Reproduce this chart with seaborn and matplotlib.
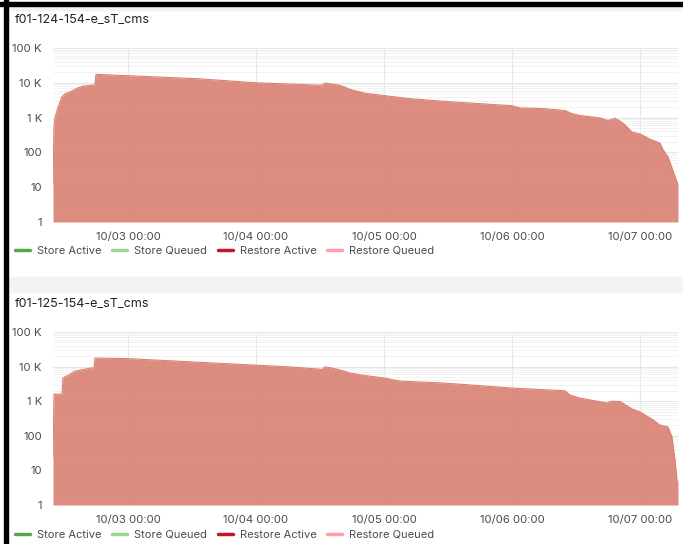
import matplotlib
matplotlib.use("Agg")
import matplotlib.pyplot as plt
import matplotlib.dates as mdates
from matplotlib.lines import Line2D
from matplotlib.patches import Rectangle
from matplotlib.ticker import FixedLocator, FixedFormatter, LogLocator, NullFormatter
import pandas as pd
import seaborn as sns

sns.set_theme(style="white")
plt.rcParams["font.family"] = ["Inter", "DejaVu Sans"]

start = pd.Timestamp("2023-10-02 00:00")

panel_titles = ["f01-124-154-e_sT_cms", "f01-125-154-e_sT_cms"]
series_names = ["Store Active", "Store Queued", "Restore Active", "Restore Queued"]
series_colors = ["#56A64B", "#96D98D", "#C4162A", "#FF9EA5"]

# hours since 10/02 00:00 and number of queued restores
hours_124 = [9.94, 10.13, 10.31, 10.88, 11.63, 12.19, 13.13, 14.44, 15.56, 17.25,
             17.81, 18.0, 24.0, 37.5, 48.0, 56.25, 59.63, 60.38, 60.94, 61.88,
             63.75, 65.63, 68.44, 72.0, 76.88, 84.38, 96.0, 97.5, 102.19, 105.94,
             107.25, 108.75, 112.5, 114.0, 115.31, 116.25, 117.19, 118.5, 120.0,
             121.88, 123.75, 124.31, 125.25, 126.0, 126.94, 127.13]
queued_124 = [12, 600, 1000, 2000, 4000, 4800, 5500, 7000, 8000, 8500,
              8800, 17500, 16000, 13000, 10000, 9000, 8500, 8600, 9800, 9300,
              8500, 6500, 5000, 4300, 3500, 2850, 2200, 1900, 1800, 1600,
              1300, 1150, 980, 820, 950, 800, 620, 380, 340,
              240, 185, 120, 74, 36, 14, 12]

hours_125 = [9.94, 10.13, 11.63, 11.81, 13.13, 14.06, 16.88, 17.63, 17.81, 24.0,
             43.13, 48.0, 54.38, 59.63, 60.38, 60.94, 61.88, 63.75, 65.63, 68.44,
             72.0, 75.0, 82.5, 86.25, 96.0, 105.94, 106.88, 108.75, 113.81, 114.75,
             116.25, 117.19, 118.5, 120.0, 122.44, 123.75, 125.25, 126.0, 126.56,
             126.94, 127.13]
queued_125 = [24, 1600, 1600, 4700, 6000, 7400, 9000, 9200, 17700, 17000,
              12000, 11000, 9800, 8500, 8200, 9800, 9300, 8000, 6500, 5500,
              4700, 3800, 3400, 3100, 2400, 2000, 1500, 1230, 890, 1000,
              980, 800, 600, 490, 290, 205, 180, 92, 20,
              5, 5]

y_ticks = [1, 10, 100, 1000, 10000, 100000]
y_tick_labels = ["1", "10", "100", "1 K", "10 K", "100 K"]

fill_color = "#DA8172"
text_color = "#464C54"

W, H = 683, 544
fig = plt.figure(figsize=(W / 100, H / 100), dpi=100)
fig.patch.set_facecolor("white")


def fx(px):
    return px / W


def fy(py):
    return 1 - py / H


# panel frames: top border, left border and the grey bands around the panels
fig.add_artist(Rectangle((0, fy(6)), 1, fy(2) - fy(6), transform=fig.transFigure,
                         color="black", zorder=5))
fig.add_artist(Rectangle((fx(4), 0), fx(4), 1, transform=fig.transFigure,
                         color="black", zorder=5))
fig.add_artist(Rectangle((fx(8), fy(10)), 1, fy(7) - fy(10), transform=fig.transFigure,
                         color="#F2F3F4", zorder=1))
fig.add_artist(Rectangle((fx(8), fy(292)), 1, fy(277) - fy(292), transform=fig.transFigure,
                         color="#F2F3F4", zorder=1))

panels = [
    dict(title=panel_titles[0], hours=hours_124, values=queued_124,
         title_y=20, top=48, bottom=222, legend_y=251),
    dict(title=panel_titles[1], hours=hours_125, values=queued_125,
         title_y=304, top=332, bottom=505, legend_y=535),
]

x_left = start + pd.Timedelta(hours=9.94)
x_right = start + pd.Timedelta(hours=127.13)

for p in panels:
    ax = fig.add_axes([fx(53), fy(p["bottom"]), fx(678) - fx(53), fy(p["top"]) - fy(p["bottom"])])
    df = pd.DataFrame({
        "time": [start + pd.Timedelta(hours=h) for h in p["hours"]],
        "value": p["values"],
    })
    ax.set_yscale("log")
    ax.set_ylim(1, 100000)
    ax.set_xlim(x_left, x_right)

    ax.fill_between(df["time"], df["value"], 1, color=fill_color, alpha=0.9,
                    linewidth=0, zorder=2)
    sns.lineplot(data=df, x="time", y="value", ax=ax, color=fill_color,
                 linewidth=0.8, zorder=3, legend=False)

    # grid
    ax.yaxis.set_major_locator(FixedLocator(y_ticks))
    ax.yaxis.set_major_formatter(FixedFormatter(y_tick_labels))
    ax.yaxis.set_minor_locator(LogLocator(base=10, subs=range(2, 10)))
    ax.yaxis.set_minor_formatter(NullFormatter())
    ax.xaxis.set_major_locator(mdates.DayLocator())
    ax.xaxis.set_major_formatter(mdates.DateFormatter("%m/%d %H:%M"))
    ax.grid(which="major", axis="both", color="#E6E6E6", linewidth=0.8, zorder=1)
    ax.grid(which="minor", axis="y", color="#F0F0F0", linewidth=0.6, zorder=1)
    ax.set_axisbelow(True)

    for s in ax.spines.values():
        s.set_visible(False)
    ax.tick_params(axis="both", which="both", length=0, labelsize=8.2,
                   labelcolor=text_color)
    ax.tick_params(axis="x", pad=7)
    ax.tick_params(axis="y", pad=8)
    ax.set_xlabel("")
    ax.set_ylabel("")

    fig.text(fx(15), fy(p["title_y"]), p["title"], fontsize=9,
             color="#1F2023", va="center", ha="left")

    handles = [Line2D([0], [0], color=c, linewidth=2.5) for c in series_colors]
    fig.legend(handles, series_names, loc="center left",
               bbox_to_anchor=(fx(15), fy(p["legend_y"])), ncol=4, frameon=False,
               fontsize=8, labelcolor=text_color, handlelength=1.35,
               handletextpad=0.6, columnspacing=1.0, borderaxespad=0,
               borderpad=0.0)

fig.savefig("out.png", dpi=100, facecolor="white")
